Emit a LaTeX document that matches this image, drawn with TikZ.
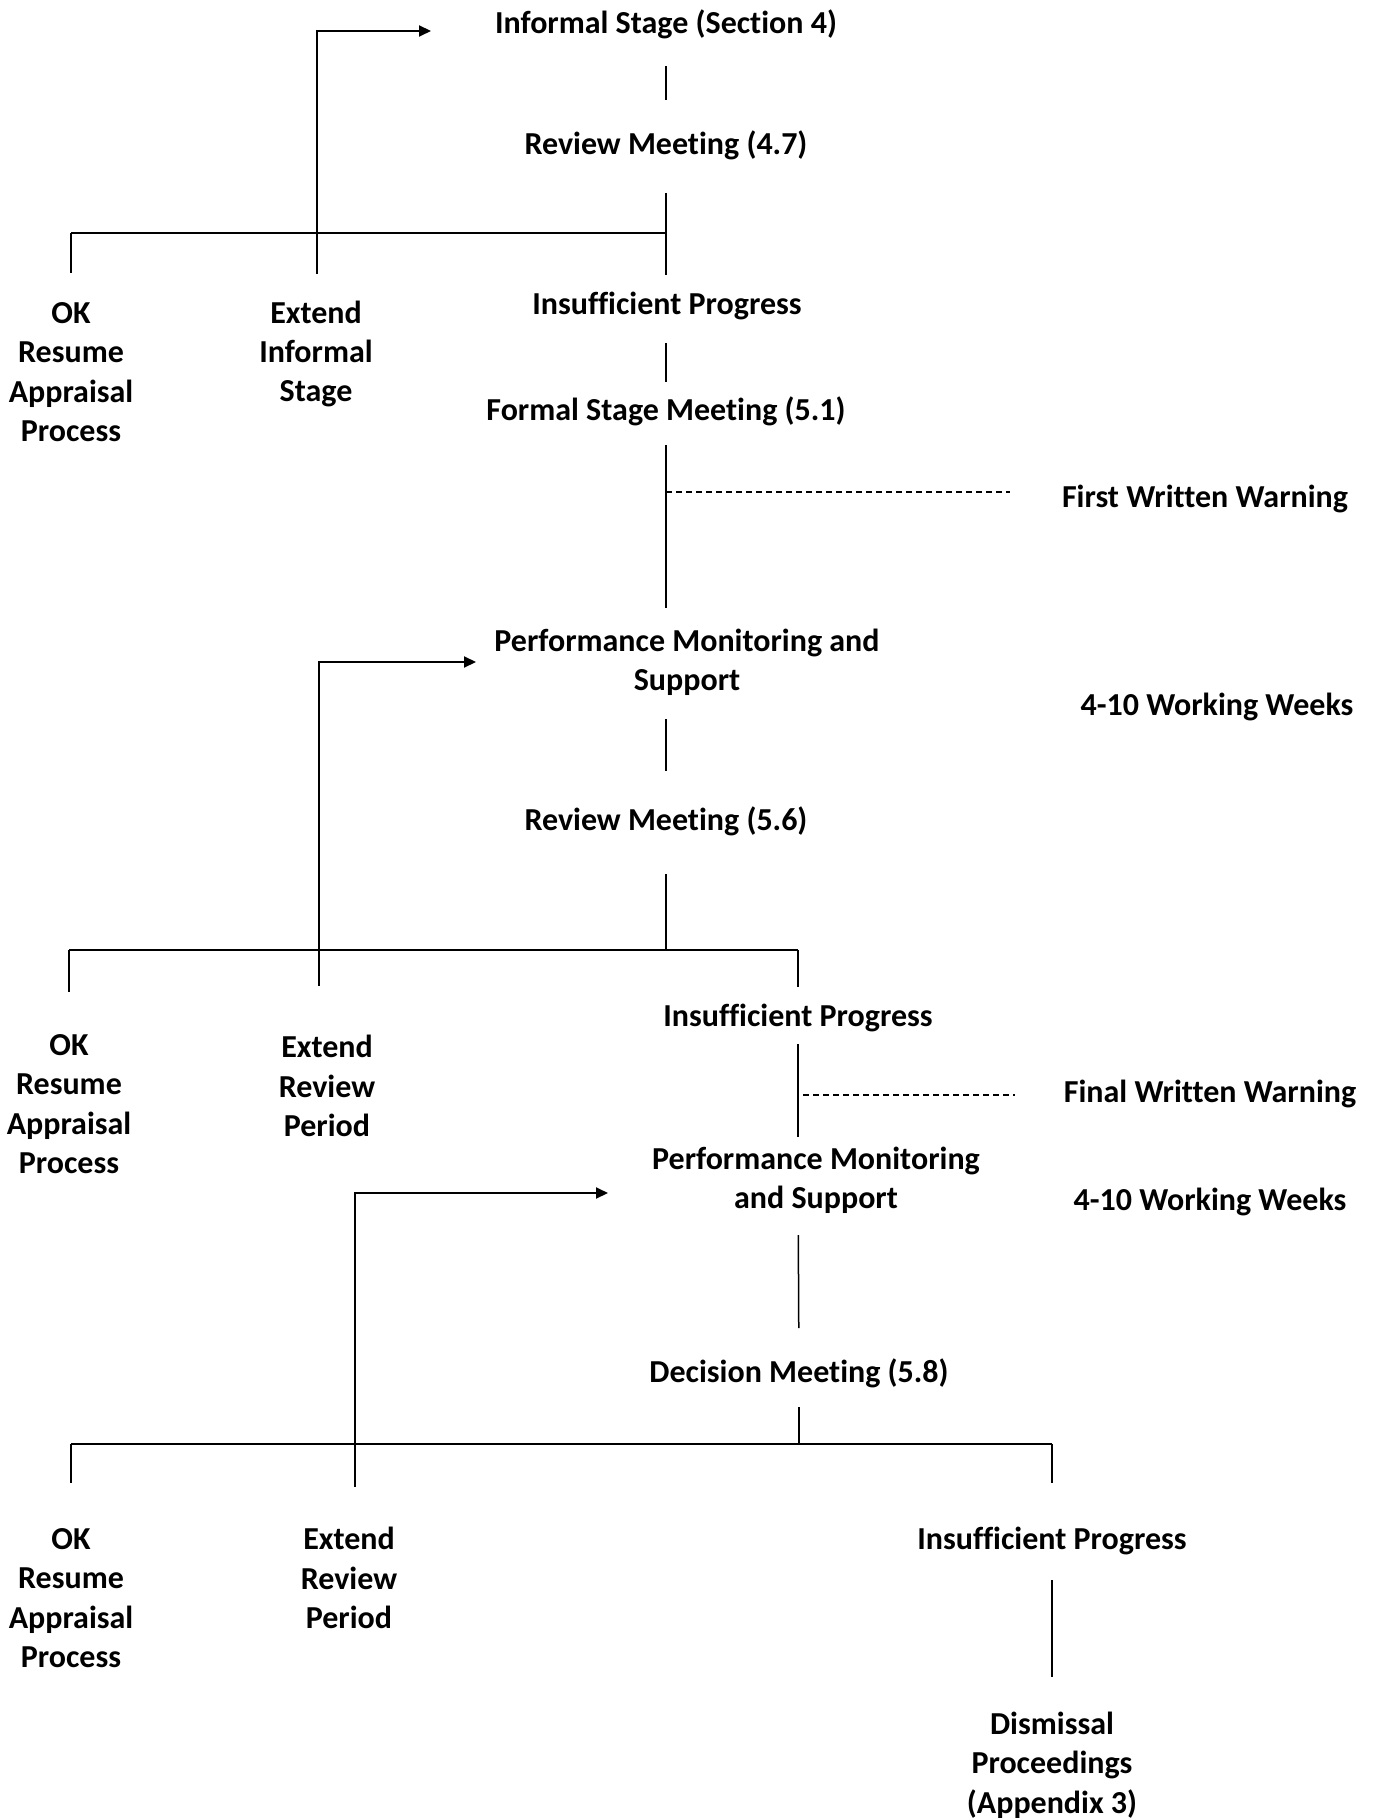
\documentclass[tikz,border=0pt]{standalone}
\usepackage{fontspec}
\setmainfont[Ligatures=NoCommon]{Carlito}
\usetikzlibrary{arrows.meta}
\usetikzlibrary{calc}

\begin{document}
\begin{tikzpicture}[
    x=0.5pt, y=-0.5pt,
    stage text/.style={font=\fontsize{16}{19.7}\selectfont\bfseries, align=center, inner sep=0pt},
    flow line/.style={line width=0.75pt},
    branch line/.style={line width=1.1pt},
    jump line/.style={-{Triangle[length=6pt,width=5.5pt]}, line width=1pt},
    warning line/.style={line width=0.6pt, dash pattern=on 3pt off 2pt}
    ]
    \useasboundingbox (0,0) rectangle (1379,1818);

    % informal stage
    \node[stage text] (informal) at (666,24) {Informal Stage (Section 4)};
    \node[stage text] (review1) at (666,145) {Review Meeting (4.7)};
    \node[stage text] (ok1) at (71,372) {OK\\Resume\\Appraisal\\Process};
    \node[stage text] (extend1) at (316,354) {Extend\\Informal\\Stage};
    \node[stage text] (insuff1) at (667,306) {Insufficient Progress};
    \coordinate (j1) at (666,233);
    \coordinate (foot1) at (317,274);
    \coordinate (tip1) at (431,31);
    % first written warning
    \node[stage text] (formal) at (666,411) {Formal Stage Meeting (5.1)};
    \node[stage text] (warn1) at (1205,499) {First Written Warning};
    \node[stage text] (perf1) at (687,662) {Performance Monitoring and\\Support};
    \node[stage text] (weeks1) at (1217,707) {4-10 Working Weeks};
    \node[stage text] (review2) at (666,821) {Review Meeting (5.6)};
    \node[stage text] (ok2) at (69,1104) {OK\\Resume\\Appraisal\\Process};
    \node[stage text] (extend2) at (327,1086) {Extend\\Review\\Period};
    \node[stage text] (insuff2) at (798,1018) {Insufficient Progress};
    \coordinate (d1) at (666,492);
    \coordinate (j2) at (666,950);
    \coordinate (foot2) at (319,986);
    \coordinate (tip2) at (476,662);
    % final written warning
    \node[stage text] (warn2) at (1210,1094) {Final Written Warning};
    \node[stage text] (perf2) at (816,1180) {Performance Monitoring\\and Support};
    \node[stage text] (weeks2) at (1210,1202) {4-10 Working Weeks};
    \node[stage text] (decision) at (799,1373) {Decision Meeting (5.8)};
    \node[stage text] (ok3) at (71,1598) {OK\\Resume\\Appraisal\\Process};
    \node[stage text] (extend3) at (349,1578) {Extend\\Review\\Period};
    \node[stage text] (insuff3) at (1052,1541) {Insufficient Progress};
    \node[stage text] (dismissal) at (1052,1765) {Dismissal\\Proceedings\\(Appendix 3)};
    \coordinate (d2) at (803,1095);
    \coordinate (j3) at (799,1444);
    \coordinate (foot3) at (355,1487);
    \coordinate (tip3) at (608,1193);

    % informal stage lines
    \draw[flow line, shorten <=21pt, shorten >=22.5pt] (informal.center) -- (review1.center);
    \draw[flow line, shorten <=24pt, shorten >=15.5pt] (review1.center) -- (insuff1.center -| j1);
    \draw[branch line] (ok1 |- j1) -- (j1);
    \draw[flow line, shorten >=49.5pt] (ok1 |- j1) -- (ok1.center);
    \draw[jump line] (foot1) |- (tip1);
    % formal stage lines
    \draw[flow line, shorten <=18.5pt, shorten >=14.5pt] (insuff1.center -| j1) -- (formal.center);
    \draw[flow line, shorten <=17pt, shorten >=27pt] (formal.center) -- (formal |- perf1.center);
    \draw[warning line, shorten >=26pt] (d1) -- (d1 -| warn1.west);
    \draw[flow line, shorten <=28.5pt, shorten >=25pt] (review2 |- perf1.center) -- (review2.center);
    \draw[flow line, shorten <=26.5pt] (review2.center) -- (j2);
    \draw[branch line] (ok2 |- j2) -- (insuff2 |- j2);
    \draw[flow line, shorten >=56pt] (ok2 |- j2) -- (ok2.center);
    \draw[flow line, shorten >=15.5pt] (insuff2 |- j2) -- (insuff2.center);
    \draw[jump line] (foot2) |- (tip2);
    % final stage lines
    \draw[flow line, shorten <=13pt, shorten >=21.5pt] (insuff2.center) -- (insuff2 |- perf2.center);
    \draw[warning line, shorten >=24pt] (d2) -- (d2 -| warn2.west);
    \draw[flow line, shorten <=27.5pt, shorten >=22.5pt] (insuff2 |- perf2.center) -- (decision.center);
    \draw[flow line, shorten <=17pt] (decision.center) -- (j3);
    \draw[branch line] (ok3 |- j3) -- (insuff3 |- j3);
    \draw[flow line, shorten >=57.5pt] (ok3 |- j3) -- (ok3.center);
    \draw[flow line, shorten >=29pt] (insuff3 |- j3) -- (insuff3.center);
    \draw[jump line] (foot3) |- (tip3);
    \draw[flow line, shorten <=19.5pt, shorten >=44pt] (insuff3.center) -- (dismissal.center);

\end{tikzpicture}
\end{document}
